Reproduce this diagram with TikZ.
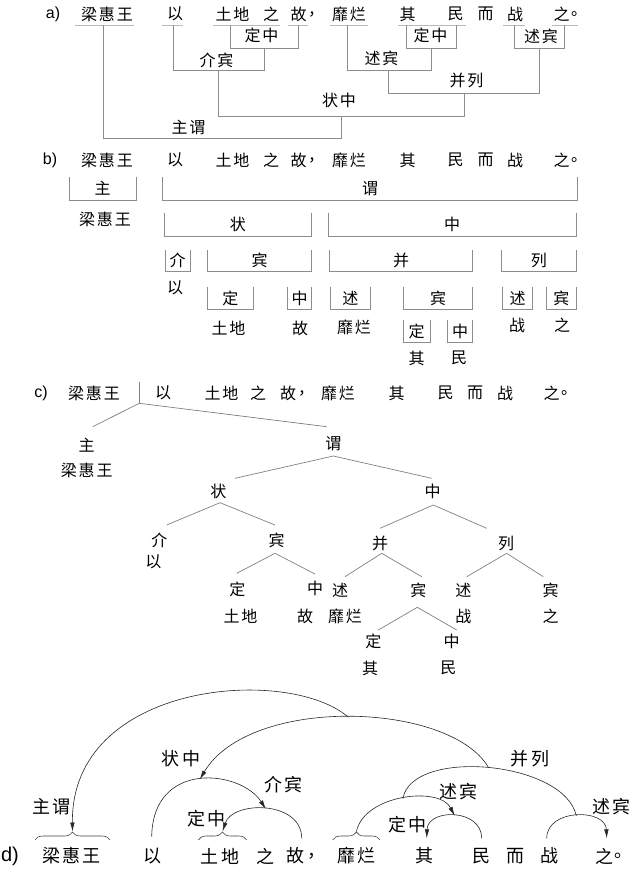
\documentclass[tikz,border=0pt]{standalone}
\usepackage{fontspec}
\setmainfont{Liberation Sans}
\newfontfamily\cjk[LetterSpace=12]{Noto Sans CJK SC}
\usetikzlibrary{calc, arrows.meta, decorations.pathreplacing}

\tikzset{
  word/.style={font=\cjk\fontsize{16}{16}\selectfont, inner sep=0pt},
  bigword/.style={font=\cjk\fontsize{18}{18}\selectfont, inner sep=0pt},
  tag/.style={word},
  bigtag/.style={bigword},
  part/.style={font=\fontsize{16}{16}\selectfont, inner sep=0pt},
  uline/.style={draw=gray!55, line width=0.9pt},
  link/.style={draw=gray!90, line width=0.8pt},
  twig/.style={draw=gray, line width=0.7pt},
  dep/.style={draw=black!85, line width=0.6pt},
  deparrow/.style={dep, -{Latex[length=9pt,width=4.5pt]}},
  grp/.style={draw=black!75, line width=0.6pt, decorate, decoration={brace, amplitude=8pt}},
}

% helper for the open boxes of b)
% #1 name, #2 left x, #3 right x, #4 top y, #5 bottom y, #6 label
\newcommand\slotbox[6]{%
  \draw[link] (#2,#4) |- (#3,#5) -- (#3,#4);
  \node[tag] (#1) at ({(#2+#3)/2},{(#4+#5)/2}) {#6};
}

\begin{document}
\begin{tikzpicture}[x=1pt, y=-1pt]
\useasboundingbox (0,0) rectangle (638,872);

% ---------------- a) bracket analysis ----------------
\node[part] (pa) at (53,14) {a)};
\foreach \w/\x [count=\i] in {梁惠王/107, 以/175, 土地/232.5, 之/271, 故/298.5, ，/316, 靡烂/349, 其/407.5, 民/455.5, 而/485.5, 战/515, 之/561.5, 。/579}
  \node[word] (a\i) at (\x,14) {\w};

% word underlines
\foreach \l/\r in {75/134, 162/183, 213/280, 288/308, 330/368, 398/466, 503/525, 552/578}
  \draw[uline] (\l,25) -- (\r,25);

% leg tops
\coordinate (lhw) at (103.3,25);
\coordinate (yi) at (173.3,25);
\coordinate (td) at (230.7,25);
\coordinate (gu) at (298.3,25);
\coordinate (ml) at (347.3,25);
\coordinate (qi) at (406,25);
\coordinate (min) at (456,25);
\coordinate (zhan) at (514,25);
\coordinate (zhi) at (564.3,25);

% joints
\coordinate (dz1) at (264.5,48.3);
\coordinate (dz2) at (431,48.3);
\coordinate (sb2) at (539.2,48.3);
\coordinate (jb) at (218.7,70.7);
\coordinate (sb1) at (388.7,70.7);
\coordinate (bl) at (464,93.3);
\coordinate (zz) at (341.7,116.7);
\coordinate (zw) at (222.5,138.3);

\draw[link] (td) |- (dz1) -| (gu);
\draw[link] (qi) |- (dz2) -| (min);
\draw[link] (zhan) |- (sb2) -| (zhi);
\draw[link] (yi) |- (jb) -| (dz1);
\draw[link] (ml) |- (sb1) -| (dz2);
\draw[link] (sb1) |- (bl) -| (sb2);
\draw[link] (jb) |- (zz) -| (bl);
\draw[link] (lhw) |- (zw) -| (zz);

\node[tag] (a-dz1) at (261.5,35) {定中};
\node[tag] (a-dz2) at (430.5,35) {定中};
\node[tag] (a-sb2) at (541,36) {述宾};
\node[tag] (a-jb) at (216.5,60) {介宾};
\node[tag] (a-sb1) at (381.5,58) {述宾};
\node[tag] (a-bl) at (466.5,80) {并列};
\node[tag] (a-zz) at (339,100) {状中};
\node[tag] (a-zw) at (188.5,127) {主谓};

% ---------------- b) box analysis ----------------
\node[part] (pb) at (50,160) {b)};
\foreach \w/\x [count=\i] in {梁惠王/107, 以/175, 土地/232.5, 之/271, 故/298.5, ，/316, 靡烂/349, 其/407.5, 民/455.5, 而/485.5, 战/515, 之/561.5, 。/579}
  \node[word] (b\i) at (\x,160) {\w};

\slotbox{b-zhu}{69.3}{136}{176.7}{200}{主}
\slotbox{b-wei}{162.7}{577.7}{176.7}{200}{谓}
\slotbox{b-zhuang}{164}{311.7}{213.3}{236}{状}
\slotbox{b-zhong}{328.3}{576}{213.3}{236}{中}
\slotbox{b-jie}{165}{190}{250}{271.7}{介}
\slotbox{b-bin}{207.3}{311.7}{250}{271.7}{宾}
\slotbox{b-bing}{329.3}{472.7}{250}{271.7}{并}
\slotbox{b-lie}{501.7}{576}{250}{271.7}{列}
\slotbox{b-ding1}{207.3}{253.3}{286.7}{309.3}{定}
\slotbox{b-zhong1}{287.3}{311.7}{286.7}{309.3}{中}
\slotbox{b-shu1}{330.7}{370}{286.7}{309.3}{述}
\slotbox{b-bin1}{403.3}{472.7}{286.7}{309.3}{宾}
\slotbox{b-shu2}{502.7}{532.3}{286.7}{309.3}{述}
\slotbox{b-bin2}{546.7}{576}{286.7}{309.3}{宾}
\slotbox{b-ding2}{403.3}{430}{320}{342.7}{定}
\slotbox{b-zhong2}{447.7}{472.7}{320}{342.7}{中}

\node[word] (b-lhw) at (105,219) {梁惠王};
\node[word] (b-yi) at (175,288) {以};
\node[word] (b-td) at (228.5,328) {土地};
\node[word] (b-gu) at (300,328) {故};
\node[word] (b-ml) at (354,327) {靡烂};
\node[word] (b-zhan) at (517,325) {战};
\node[word] (b-zhi) at (562,325) {之};
\node[word] (b-qi) at (416.5,358) {其};
\node[word] (b-min) at (459,358) {民};

% ---------------- c) tree ----------------
\node[part] (pc) at (41,393) {c)};
\foreach \w/\x [count=\i] in {梁惠王/94, 以/163, 土地/221.5, 之/258, 故/288, ，/306, 靡烂/338, 其/396.5, 民/445.5, 而/475, 战/505, 之/551.5, 。/569}
  \node[word] (c\i) at (\x,393) {\w};

\node[tag] (c-zhu) at (86.7,445) {主};
\node[word] (c-lhw) at (86.7,470) {梁惠王};
\node[tag] (c-wei) at (333.3,444) {谓};
\node[tag] (c-zhuang) at (218.3,491.7) {状};
\node[tag] (c-zhong) at (432.7,491.7) {中};
\node[tag] (c-jie) at (159.3,540) {介};
\node[word] (c-yi) at (153.3,561.7) {以};
\node[tag] (c-bin) at (276.7,540) {宾};
\node[tag] (c-ding1) at (237.3,589.3) {定};
\node[word] (c-td) at (240.5,616.7) {土地};
\node[tag] (c-zhong1) at (315,588.3) {中};
\node[word] (c-gu) at (305,616.7) {故};
\node[tag] (c-bing) at (380,543.3) {并};
\node[tag] (c-lie) at (506,543.3) {列};
\node[tag] (c-shu1) at (340,590) {述};
\node[word] (c-ml) at (345,616.7) {靡烂};
\node[tag] (c-bin1) at (418.3,590.7) {宾};
\node[tag] (c-ding2) at (373.3,641.7) {定};
\node[word] (c-qi) at (370,668.3) {其};
\node[tag] (c-zhong2) at (451.7,641.7) {中};
\node[word] (c-min) at (448.3,668.3) {民};
\node[tag] (c-shu2) at (463.3,590) {述};
\node[word] (c-zhan) at (463.3,616.7) {战};
\node[tag] (c-bin2) at (550.7,590) {宾};
\node[word] (c-zhi) at (550.7,616.7) {之};

% branch points (apex, left end, right end)
\foreach \n/\x/\y in {r/139.3/403.3, r1/92.7/426.7, r2/326.7/426.7,
    w/333.3/456, w1/235/478.3, w2/431.7/478.3,
    z/220/502.7, z1/166.7/525, z2/275/525,
    b/275/553.3, b1/236.7/573.3, b2/315/574,
    m/433.3/505, m1/380/528.3, m2/486.7/528.3,
    p/381.7/553.3, p1/345/576.7, p2/421.7/576.7,
    q/417.3/607.3, q1/378.3/630, q2/456.7/630,
    l/506.7/553.3, l1/466.7/576.7, l2/543.3/576.7}
  \coordinate (t-\n) at (\x,\y);
\coordinate (t-top) at (139.3,381.7);
\draw[twig] (t-top) -- (t-r);
\foreach \n in {r,w,z,b,m,p,q,l}
  \draw[twig] (t-\n1) -- (t-\n) -- (t-\n2);

% ---------------- d) dependency arcs ----------------
\node[part, font=\fontsize{20}{20}\selectfont] (pd) at (10,856) {d)};
\foreach \w/\x [count=\i] in {梁惠王/71.7, 以/152.5, 土地/220, 之/265, 故/295, ，/316, 靡烂/356.7, 其/424, 民/481.5, 而/515, 战/549, 之/604, 。/623}
  \node[bigword] (d\i) at (\x,856) {\w};

\draw[grp] (35,840) -- (110,840);
\draw[grp] (198.3,840) -- (246.7,840);
\draw[grp] (332.7,840) -- (380,840);

\coordinate (d-lhw) at (72.5,831.5);
\coordinate (d-td) at (222.5,831.5);
\coordinate (d-ml) at (356.4,831.5);
\coordinate (d-yi) at (151.7,836.7);
\coordinate (d-gu) at (301.7,838.3);
\coordinate (d-qi) at (426.7,838.3);
\coordinate (d-min) at (481.7,838.3);
\coordinate (d-zhan) at (546.7,838.3);
\coordinate (d-zhi) at (606.7,838.3);

\draw[deparrow] (d-gu) .. controls +(0,-38) and +(10,-31) .. (d-td) coordinate[pos=.5] (d-dz1);
\draw[deparrow] (d-yi) .. controls +(1,-77) and +(-25,-39) .. (d-dz1) coordinate[pos=.5] (d-jb);
\draw[deparrow] (d-min) .. controls +(0,-30) and +(1,-30) .. (d-qi) coordinate[pos=.5] (d-dz2);
\draw[deparrow] (d-ml) .. controls +(8,-37) and +(-15,-30) .. (d-dz2) coordinate[pos=.5] (d-sb1);
\draw[deparrow] (d-zhan) .. controls +(0,-30) and +(-1,-30) .. (d-zhi) coordinate[pos=.5] (d-sb2);
\draw[dep] (d-sb1) .. controls +(9,-51) and +(-12,-55) .. (d-sb2) coordinate[pos=.5] (d-bl);
\draw[deparrow] (d-bl) .. controls +(-39,-66) and +(50,-84) .. (d-jb) coordinate[pos=.5] (d-zz);
\draw[deparrow] (d-zz) .. controls +(-60,-52) and +(-2,-150) .. (d-lhw);

\node[bigtag] (d-t-zw) at (51.7,806.7) {主谓};
\node[bigtag] (d-t-zz) at (181,758.3) {状中};
\node[bigtag] (d-t-jb) at (283.3,785) {介宾};
\node[bigtag] (d-t-dz1) at (206.7,818.3) {定中};
\node[bigtag] (d-t-bl) at (530,758.3) {并列};
\node[bigtag] (d-t-sb1) at (458.3,791.7) {述宾};
\node[bigtag] (d-t-dz2) at (407.5,825) {定中};
\node[bigtag] (d-t-sb2) at (611.7,806.7) {述宾};

\end{tikzpicture}
\end{document}
